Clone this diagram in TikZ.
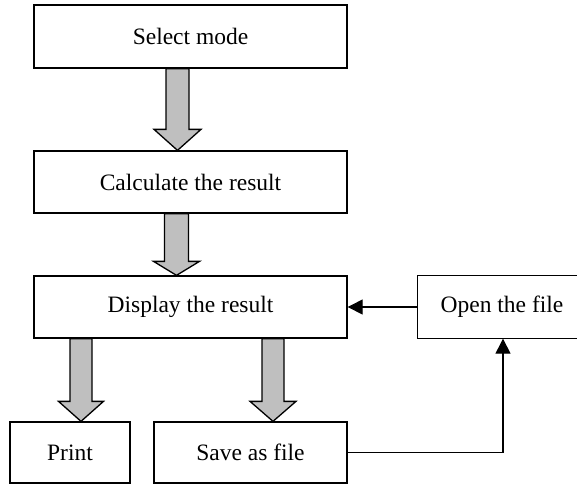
\documentclass[tikz,border=0pt]{standalone}
\usepackage{fontspec}
\setmainfont{Liberation Serif}
\usetikzlibrary{arrows.meta,calc}
\tikzset{
  box/.style={draw=black,line width=1.3pt,fill=white,minimum width=#1,inner sep=0pt,
    font=\fontsize{23.5}{26}\selectfont},
  blk/.style={draw=black,line width=1.3pt,fill=black!25,line join=miter},
  thin/.style={draw=black,line width=1.1pt,-{Triangle[length=15pt,width=15pt]}}
}
% #1 from node, #2 to node, #3 centre x, #4 shaft half width, #5 head half width, #6 head length
\newcommand\blockarr[6]{%
  \draw[blk] let \p1=(#1.south), \p2=(#2.north) in
    ({#3pt-#4pt},\y1) -- ({#3pt+#4pt},\y1) -- ({#3pt+#4pt},{\y2+#6pt}) --
    ({#3pt+#5pt},{\y2+#6pt}) -- ({#3pt},\y2) -- ({#3pt-#5pt},{\y2+#6pt}) --
    ({#3pt-#4pt},{\y2+#6pt}) -- cycle;}
\begin{document}
\begin{tikzpicture}[x=1pt,y=-1pt]
\useasboundingbox (0,0) rectangle (577,485);
\node[box=313pt,minimum height=63pt] (sel) at (190.5,36.5) {Select mode};
\node[box=313pt,minimum height=62pt] (calc) at (190.5,182) {Calculate the result};
\node[box=313pt,minimum height=62pt] (disp) at (190.5,307) {Display the result};
\node[box=120pt,minimum height=61pt] (print) at (70,452.5) {Print};
\node[box=193pt,minimum height=61pt] (save) at (250.5,452.5) {Save as file};
\node[box=168pt,minimum height=62pt,draw=none,fill=none] (open) at (502,307) {Open the file};
\draw[line width=1.3pt] ([xshift=200pt]open.north west) -- (open.north west) -- (open.south west) -- ([xshift=200pt]open.south west);
\blockarr{sel}{calc}{177.5}{11.5}{23.5}{21}
\blockarr{calc}{disp}{176.5}{12}{23}{14}
\blockarr{disp}{print}{81}{11}{22.5}{20}
\blockarr{disp}{save}{273}{11}{23}{20}
\draw[thin] (open.west) -- (disp.east);
\draw[thin] (save.east) -| ([xshift=1pt]open.south);
\end{tikzpicture}
\end{document}
